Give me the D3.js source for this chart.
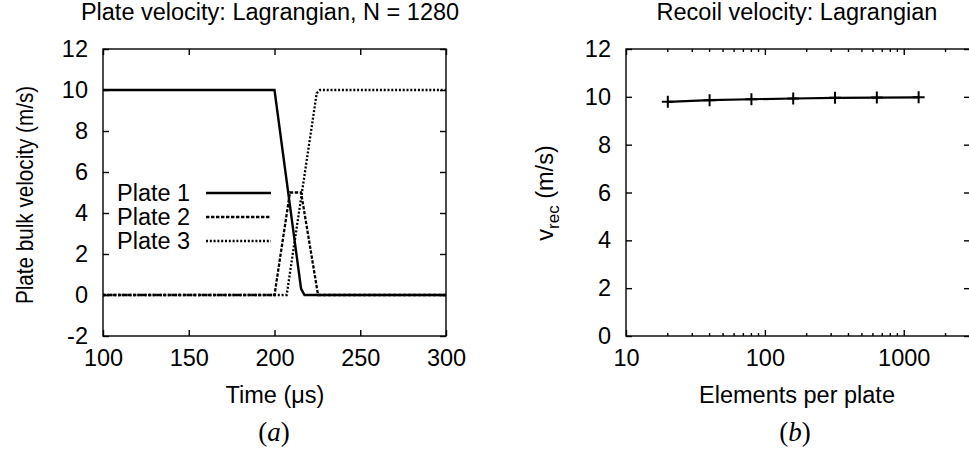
<!DOCTYPE html>
<html>
<head>
<meta charset="utf-8">
<script src="https://cdnjs.cloudflare.com/ajax/libs/d3/7.8.5/d3.min.js"></script>
<style>
    body { margin: 0; background: #fff; }
    svg text { font-family: "Liberation Sans", Arial, sans-serif; fill: #000; }
    .domain, .tick line, .frame { stroke: #000; stroke-width: 1.4; }
</style>
</head>
<body>
<div id="chart"></div>
<script>
/*global d3*/
// panel (a): plate velocities vs time
var plate1Time = [100, 200, 215.5, 217.5, 300],
    plate1Vel = [10, 10, 0.3, 0, 0],
    plate2Time = [100, 200, 209, 215.5, 225.4, 300],
    plate2Vel = [0, 0, 5, 5, 0, 0],
    plate3Time = [100, 207.1, 224.6, 226.5, 300],
    plate3Vel = [0, 0, 9.84, 10, 10],
    plateNames = ["Plate 1", "Plate 2", "Plate 3"],
    timeTicks = [100, 150, 200, 250, 300],
    velTicks = [-2, 0, 2, 4, 6, 8, 10, 12];

// panel (b): recoil velocity vs resolution
var elements = [20, 40, 80, 160, 320, 640, 1280],
    recoilVel = [9.79, 9.86, 9.9, 9.93, 9.96, 9.97, 9.98],
    elemTicks = [10, 100, 1000],
    recTicks = [0, 2, 4, 6, 8, 10, 12];

(function () {
    "use strict";
    var W = 969, H = 458, fs = 23.5,
        svg, xa, ya, xb, yb, ga, gb, line, series, dashes, widths, minor, lg;

    svg = d3.select("#chart").append("svg")
        .attr("width", W)
        .attr("height", H);

    xa = d3.scaleLinear().domain([100, 300]).range([103, 446]);
    ya = d3.scaleLinear().domain([-2, 12]).range([336, 49]);
    xb = d3.scaleLog().domain([10, 3000]).range([626, 970]);
    yb = d3.scaleLinear().domain([0, 12]).range([336, 49]);

    function axes(g, x, y, xticks, yticks) {
        var x0 = x.range()[0], x1 = x.range()[1],
            y0 = y.range()[0], y1 = y.range()[1];
        g.append("g").attr("transform", "translate(0," + y0 + ")")
            .call(d3.axisBottom(x).tickValues(xticks).tickSize(-6).tickPadding(13).tickFormat(String));
        g.append("g").attr("transform", "translate(0," + y1 + ")")
            .call(d3.axisTop(x).tickValues(xticks).tickSize(-6).tickFormat(""));
        g.append("g").attr("transform", "translate(" + x0 + ",0)")
            .call(d3.axisLeft(y).tickValues(yticks).tickSize(-6).tickPadding(15).tickFormat(String));
        g.append("g").attr("transform", "translate(" + x1 + ",0)")
            .call(d3.axisRight(y).tickValues(yticks).tickSize(-6).tickFormat(""));
        g.selectAll(".domain").attr("d", null);
        g.append("rect").attr("class", "frame")
            .attr("x", x0).attr("y", y1)
            .attr("width", x1 - x0).attr("height", y0 - y1)
            .attr("fill", "none");
        g.selectAll(".tick text").attr("font-size", fs);
        g.selectAll("g").attr("font-family", null).attr("font-size", null);
    }

    // ---- panel a
    ga = svg.append("g");
    axes(ga, xa, ya, timeTicks, velTicks);

    line = d3.line()
        .x(function (d) { return xa(d[0]); })
        .y(function (d) { return ya(d[1]); });

    series = [d3.zip(plate1Time, plate1Vel), d3.zip(plate2Time, plate2Vel), d3.zip(plate3Time, plate3Vel)];
    dashes = [null, "3.4,1.6", "2,1.8"];
    widths = [2.4, 2.3, 2.3];

    ga.selectAll("path.plate").data(series).enter().append("path")
        .attr("class", "plate")
        .attr("d", line)
        .attr("fill", "none")
        .attr("stroke", "#000")
        .attr("stroke-width", function (d, i) { return widths[i]; })
        .attr("stroke-dasharray", function (d, i) { return dashes[i]; });

    lg = ga.selectAll("g.key").data(plateNames).enter().append("g")
        .attr("class", "key")
        .attr("transform", function (d, i) { return "translate(0," + (193 + i * 24) + ")"; });
    lg.append("text").attr("x", 117).attr("y", 8).attr("font-size", fs)
        .text(function (d) { return d; });
    lg.append("line").attr("x1", 206).attr("x2", 271)
        .attr("stroke", "#000")
        .attr("stroke-width", function (d, i) { return widths[i]; })
        .attr("stroke-dasharray", function (d, i) { return dashes[i]; });

    ga.append("text").attr("x", 270).attr("y", 20).attr("text-anchor", "middle")
        .attr("font-size", fs).text("Plate velocity: Lagrangian, N = 1280");
    ga.append("text").attr("x", 275).attr("y", 403).attr("text-anchor", "middle")
        .attr("font-size", fs).text("Time (\u03bcs)");
    ga.append("text").attr("transform", "translate(33,195) rotate(-90) scale(0.88,1)")
        .attr("text-anchor", "middle").attr("font-size", fs)
        .text("Plate bulk velocity (m/s)");

    // ---- panel b
    gb = svg.append("g");
    axes(gb, xb, yb, elemTicks, recTicks);

    minor = d3.range(1, 4).reduce(function (acc, p) {
        return acc.concat(d3.range(2, 10).map(function (m) { return m * Math.pow(10, p); }));
    }, []).filter(function (v) { return v <= 3000; });

    gb.selectAll("line.mb").data(minor).enter().append("line")
        .attr("class", "frame")
        .attr("x1", xb).attr("x2", xb)
        .attr("y1", 336).attr("y2", 333);
    gb.selectAll("line.mt").data(minor).enter().append("line")
        .attr("class", "frame")
        .attr("x1", xb).attr("x2", xb)
        .attr("y1", 49).attr("y2", 52);

    gb.append("path")
        .datum(d3.zip(elements, recoilVel))
        .attr("d", d3.line()
            .x(function (d) { return xb(d[0]); })
            .y(function (d) { return yb(d[1]); }))
        .attr("fill", "none")
        .attr("stroke", "#000")
        .attr("stroke-width", 2.2);

    gb.selectAll("path.pt").data(d3.zip(elements, recoilVel)).enter().append("path")
        .attr("class", "pt")
        .attr("d", function (d) {
            var cx = xb(d[0]), cy = yb(d[1]);
            return "M" + (cx - 6) + "," + cy + "H" + (cx + 6) + "M" + cx + "," + (cy - 6) + "V" + (cy + 6);
        })
        .attr("stroke", "#000")
        .attr("stroke-width", 2);

    gb.append("text").attr("x", 797).attr("y", 20).attr("text-anchor", "middle")
        .attr("font-size", fs).text("Recoil velocity: Lagrangian");
    gb.append("text").attr("x", 797).attr("y", 403).attr("text-anchor", "middle")
        .attr("font-size", fs).text("Elements per plate");
    (function () {
        var t = gb.append("text").attr("transform", "translate(553,193) rotate(-90)")
            .attr("text-anchor", "middle").attr("font-size", fs);
        t.append("tspan").text("v");
        t.append("tspan").attr("font-size", 17).attr("dy", 6).text("rec");
        t.append("tspan").attr("dy", -6).text(" (m/s)");
    }());

    // panel letters
    [["a", 274], ["b", 795]].forEach(function (p) {
        var t = svg.append("text").attr("x", p[1]).attr("y", 441)
            .attr("text-anchor", "middle").attr("font-size", 27)
            .style("font-family", "'Liberation Serif', 'DejaVu Serif', serif");
        t.append("tspan").text("(");
        t.append("tspan").attr("font-style", "italic").text(p[0]);
        t.append("tspan").text(")");
    });
}());
</script>
</body>
</html>
